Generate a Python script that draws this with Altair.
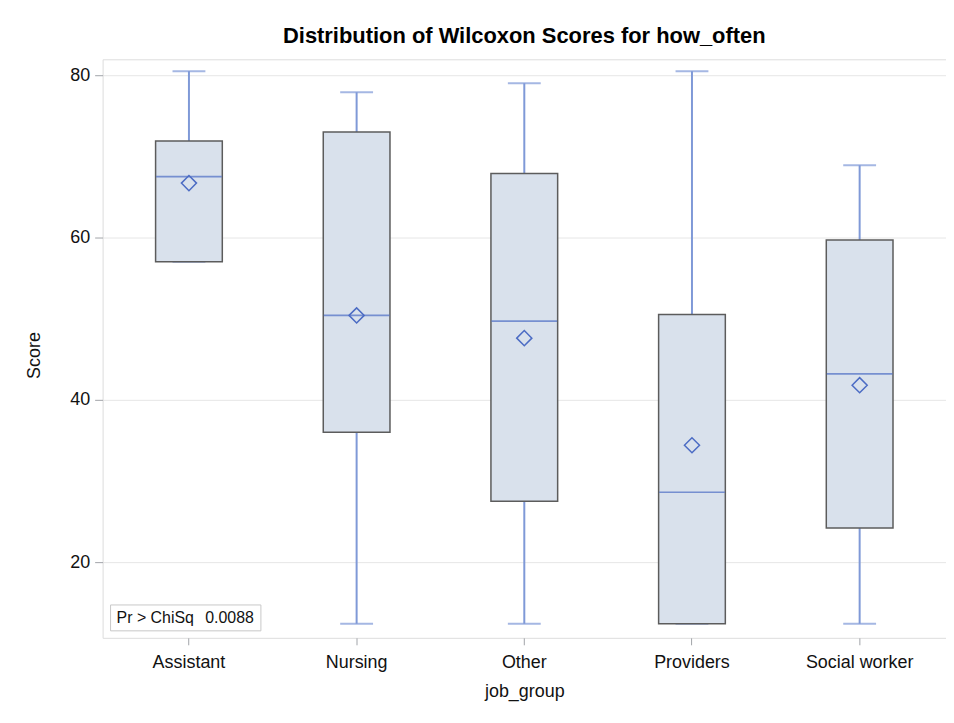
import altair as alt
import pandas as pd

groups = ["Assistant", "Nursing", "Other", "Providers", "Social worker"]
w_min = [57.0, 12.4, 12.4, 12.4, 12.4]
q1 = [57.0, 36.0, 27.5, 12.4, 24.2]
median = [67.5, 50.4, 49.7, 28.6, 43.2]
q3 = [71.9, 73.0, 67.9, 50.5, 59.7]
w_max = [80.5, 77.9, 79.0, 80.5, 68.9]
mean = [66.7, 50.4, 47.6, 34.4, 41.8]
y_ticks = [20, 40, 60, 80]
stat_label = ["Pr > ChiSq"]
stat_value = ["0.0088"]

df = pd.DataFrame({
    "job_group": groups, "wmin": w_min, "q1": q1, "median": median,
    "q3": q3, "wmax": w_max, "mean": mean,
})

FONT = "Liberation Sans"
WHISK = "#7f99d7"
BLUE = "#4c6cc4"

xenc = alt.X("job_group:N", sort=groups,
             scale=alt.Scale(paddingInner=0, paddingOuter=0.015),
             axis=alt.Axis(title="job_group", labelAngle=0, labelFont=FONT,
                           labelFontSize=18, labelColor="#111", labelPadding=9,
                           tickSize=7, tickColor="#a0a3a8", domain=False,
                           titleFont=FONT, titleFontSize=18, titleFontWeight="normal",
                           titleColor="#111", titleY=54, titleBaseline="middle"))
yscale = alt.Scale(domain=[10.67, 81.96], nice=False, zero=False)
yaxis = alt.Axis(title="Score", values=y_ticks, labelFont=FONT, labelFontSize=18,
                 labelColor="#111", labelPadding=5, tickSize=8, tickColor="#a0a3a8",
                 domain=False, grid=True, gridColor="#e6e6e6", gridWidth=1,
                 titleFont=FONT, titleFontSize=18, titleFontWeight="normal",
                 titleColor="#111", titleX=-68, titleY=297, titleBaseline="middle",
                 titleAlign="center")

base = alt.Chart(df)

whisker = base.mark_rule(color=WHISK, strokeWidth=2).encode(
    x=xenc, y=alt.Y("wmin:Q", scale=yscale, axis=yaxis), y2="wmax:Q")
cap_top = base.mark_tick(color=WHISK, thickness=2, size=33).encode(
    x=xenc, y=alt.Y("wmax:Q", scale=yscale))
cap_bot = base.mark_tick(color=WHISK, thickness=2, size=33).encode(
    x=xenc, y=alt.Y("wmin:Q", scale=yscale))
box = base.mark_bar(size=67, fill="#d9e1ec", stroke="#5c5c5c", strokeWidth=1.5).encode(
    x=xenc, y=alt.Y("q1:Q", scale=yscale), y2="q3:Q")
med = base.mark_tick(color=BLUE, thickness=1.6, size=66).encode(
    x=xenc, y=alt.Y("median:Q", scale=yscale))
avg = base.mark_point(shape="diamond", filled=False, color=BLUE, size=230,
                      strokeWidth=1.5, opacity=1).encode(
    x=xenc, y=alt.Y("mean:Q", scale=yscale))

stat_df = pd.DataFrame({"label": stat_label, "value": stat_value})
stat_box = alt.Chart(stat_df).mark_rect(fill="white", stroke="#c8c8c8", strokeWidth=1).encode(
    x=alt.value(8), x2=alt.value(159), y=alt.value(548), y2=alt.value(574))
stat_lab = alt.Chart(stat_df).mark_text(align="left", baseline="middle", font=FONT,
                                        fontSize=16, color="#111").encode(
    x=alt.value(14), y=alt.value(561), text="label:N")
stat_val = alt.Chart(stat_df).mark_text(align="left", baseline="middle", font=FONT,
                                        fontSize=16, color="#111").encode(
    x=alt.value(103), y=alt.value(561), text="value:N")

chart = alt.layer(whisker, cap_top, cap_bot, box, med, avg, stat_box, stat_lab, stat_val).properties(
    width=847, height=581,
    padding={"left": 95, "top": 50, "right": 0, "bottom": 75},
    autosize=alt.AutoSizeParams(type="none"),
    title=alt.TitleParams("Distribution of Wilcoxon Scores for how_often", font=FONT,
                          fontSize=22, fontWeight="bold", color="#000", anchor="middle",
                          baseline="bottom", offset=12, dy=23),
).configure_view(stroke="#a5a8ad", strokeWidth=1.2).configure(background="white")

chart.save("out.html", embed_options={"renderer": "svg", "actions": False})
